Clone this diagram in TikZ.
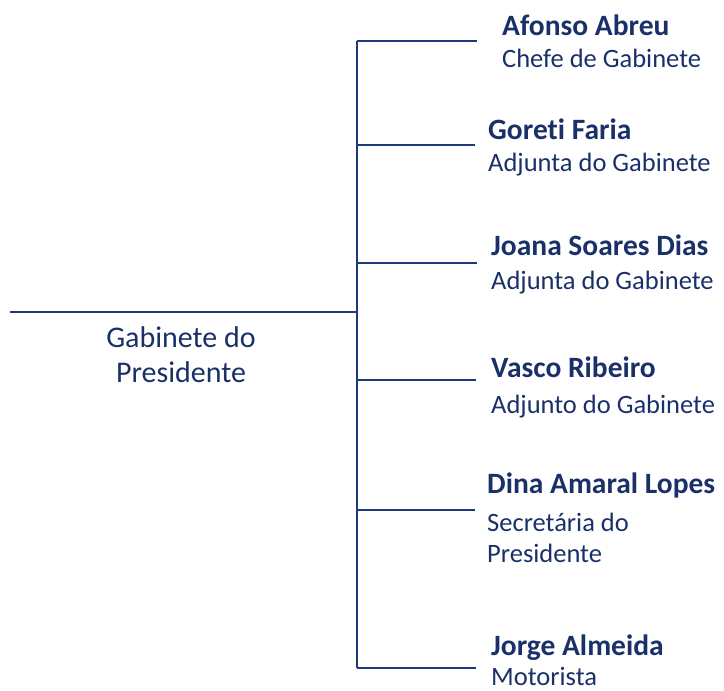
\documentclass[tikz,border=0pt]{standalone}
\usepackage{fontspec}
\setmainfont{Carlito}[Ligatures=CommonOff]
\usepackage{xcolor}
\usetikzlibrary{positioning,calc}
\definecolor{navy}{HTML}{1F3A7A}
\definecolor{navytext}{HTML}{1A3069}

\begin{document}
\begin{tikzpicture}[x=1pt, y=-1pt,
    person/.style={anchor=base west, inner sep=0pt, text=navytext, font=\fontsize{29.5}{33}\selectfont\bfseries},
    role/.style={anchor=base west, inner sep=0pt, text=navytext, align=left, font=\fontsize{26.5}{31}\selectfont},
    branch/.style={draw=navy, line width=2.4pt}
]
\useasboundingbox (0,0) rectangle (724,691);

% Office
\node[anchor=base, inner sep=0pt, text=navytext, align=center, font=\fontsize{30}{35}\selectfont] (office) at (181,382) {Gabinete do\\Presidente};
\coordinate (root) at (10,312);
\coordinate (hub) at (357,312);

% Staff
\node[person] (afonso) at (502,35) {Afonso Abreu};
\node[role] (afonsorole) at (502,67) {Chefe de Gabinete};
\node[person] (goreti) at (488,139) {Goreti Faria};
\node[role] (goretirole) at (488,171) {Adjunta do Gabinete};
\node[person] (joana) at (491,255) {Joana Soares Dias};
\node[role] (joanarole) at (491,289) {Adjunta do Gabinete};
\node[person] (vasco) at (491,377) {Vasco Ribeiro};
\node[role] (vascorole) at (491,413) {Adjunto do Gabinete};
\node[person] (dina) at (487,493) {Dina Amaral Lopes};
\node[role] (dinarole) at (487,562) {Secretária do\\Presidente};
\node[person] (jorge) at (491,655) {Jorge Almeida};
\node[role] (jorgerole) at (491,685) {Motorista};

% Branch points
\coordinate (b1) at (357,41);   \coordinate (e1) at (477,41);
\coordinate (b2) at (357,145);  \coordinate (e2) at (475,145);
\coordinate (b3) at (357,263);  \coordinate (e3) at (477,263);
\coordinate (b4) at (357,380);  \coordinate (e4) at (476,380);
\coordinate (b5) at (357,510);  \coordinate (e5) at (475,510);
\coordinate (b6) at (357,668);  \coordinate (e6) at (476,668);

% Connectors
\draw[branch] (root) -- (hub);
\draw[branch] (b1) -- (b6);
\draw[branch] (b1) -- (e1);
\draw[branch] (b2) -- (e2);
\draw[branch] (b3) -- (e3);
\draw[branch] (b4) -- (e4);
\draw[branch] (b5) -- (e5);
\draw[branch] (b6) -- (e6);

\end{tikzpicture}
\end{document}
